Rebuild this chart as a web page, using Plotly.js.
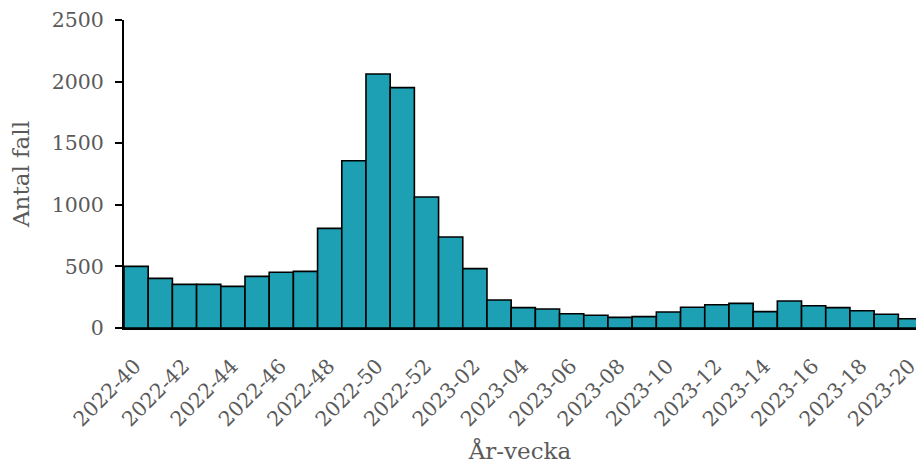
<!DOCTYPE html>
<html>
<head>
<meta charset="utf-8">
<script src="https://cdn.plot.ly/plotly-3.0.1.min.js"></script>
<style>
html,body{margin:0;padding:0;background:#fff;}
#chart{width:916px;height:464px;}
</style>
</head>
<body>
<div id="chart"></div>
<script>
const weeks = [
  "2022-40","2022-41","2022-42","2022-43","2022-44","2022-45","2022-46","2022-47","2022-48","2022-49",
  "2022-50","2022-51","2022-52","2023-01","2023-02","2023-03","2023-04","2023-05","2023-06","2023-07",
  "2023-08","2023-09","2023-10","2023-11","2023-12","2023-13","2023-14","2023-15","2023-16","2023-17",
  "2023-18","2023-19","2023-20"
];
const cases = [
  500, 403, 354, 354, 338, 419, 452, 460, 809, 1358,
  2062, 1951, 1063, 739, 482, 227, 165, 154, 116, 104,
  86, 92, 130, 168, 189, 200, 133, 219, 181, 165,
  140, 111, 75
];
const tickLabels = weeks.filter((w, i) => i % 2 === 0);

const fontFamily = "Georgia, 'DejaVu Serif', serif";
const textColor = "#5a5a5a";

const trace = {
  type: "bar",
  x: weeks,
  y: cases,
  marker: {color: "#1da0b3", line: {color: "#000000", width: 1.6}},
  hoverinfo: "x+y"
};

const layout = {
  width: 916,
  height: 464,
  margin: {l: 124, r: 0, t: 20, b: 136},
  paper_bgcolor: "#ffffff",
  plot_bgcolor: "#ffffff",
  bargap: 0,
  showlegend: false,
  font: {family: fontFamily, color: textColor},
  xaxis: {
    type: "category",
    range: [-0.5, 32.23],
    tickmode: "array",
    tickvals: tickLabels,
    ticktext: tickLabels,
    tickangle: -45,
    ticks: "",
    ticklabelstandoff: 16,
    ticklabelshift: -1,
    showgrid: false,
    zeroline: false,
    showline: true,
    linecolor: "#000000",
    linewidth: 2,
    tickfont: {family: fontFamily, size: 20.5, color: textColor},
    title: {text: "År-vecka", font: {family: fontFamily, size: 23, color: textColor}, standoff: 14}
  },
  yaxis: {
    range: [0, 2500],
    tickmode: "array",
    tickvals: [0, 500, 1000, 1500, 2000, 2500],
    ticktext: ["0", "500", "1000", "1500", "2000", "2500"],
    ticks: "outside",
    ticklen: 7,
    tickwidth: 2,
    tickcolor: "#000000",
    showgrid: false,
    zeroline: false,
    showline: true,
    linecolor: "#000000",
    linewidth: 2,
    ticklabelstandoff: 7,
    tickfont: {family: fontFamily, size: 20.5, color: textColor},
    title: {text: "Antal fall", font: {family: fontFamily, size: 23, color: textColor}, standoff: 16}
  }
};

Plotly.newPlot("chart", [trace], layout, {displayModeBar: false, staticPlot: true});
</script>
</body>
</html>
